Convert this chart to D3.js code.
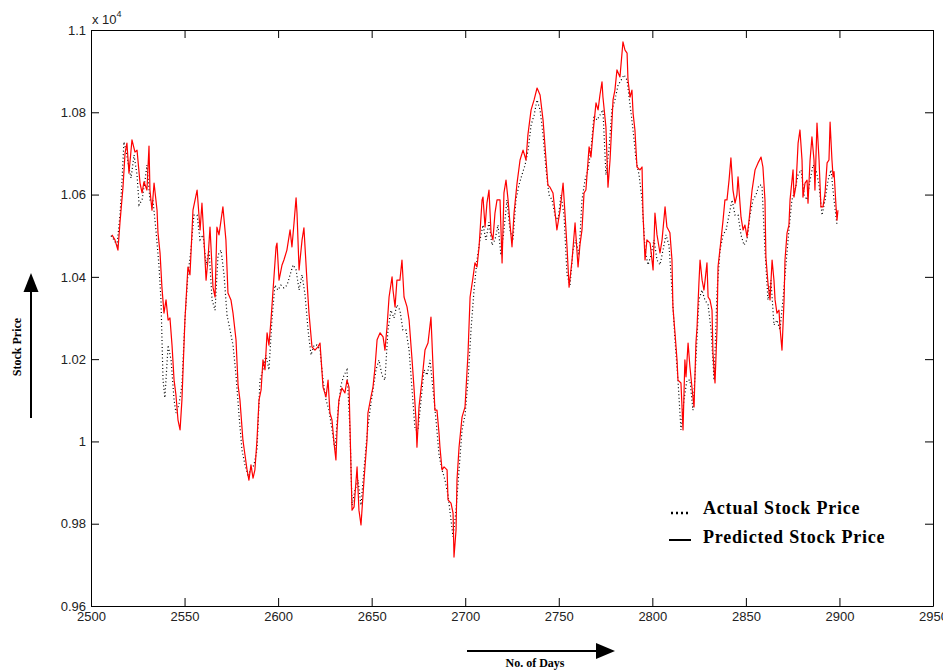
<!doctype html>
<html>
<head>
<script src="https://d3js.org/d3.v7.min.js"></script>
<style>
  body { margin: 0; background: #fff; }
  .tick text { font-family: "Liberation Sans", Arial, sans-serif; font-size: 13px; fill: #222; }
  .tick line, .domain { stroke: #000; }
</style>
</head>
<body>
<svg width="943" height="671"></svg>
<script>
// tick values of the axes
var xTicks = [2500, 2550, 2600, 2650, 2700, 2750, 2800, 2850, 2900, 2950];
var yTicks = [0.96, 0.98, 1.0, 1.02, 1.04, 1.06, 1.08, 1.1];

// actual stock price [day, price x 10^4] (black dotted)
var actual = [
  [2510.7,1.0500],[2512.3,1.0490],[2513.9,1.0477],[2515.5,1.0550],[2516.6,1.0635],[2517.6,1.0728],
  [2518.7,1.0708],[2519.8,1.0677],[2521.4,1.0640],[2523.0,1.0696],[2524.6,1.0648],[2525.7,1.0575],
  [2527.3,1.0587],[2528.9,1.0635],[2529.9,1.0672],[2531.5,1.0587],[2533.1,1.0587],[2534.7,1.0514],
  [2536.3,1.0429],[2537.4,1.0344],[2538.5,1.0149],[2539.5,1.0106],[2541.2,1.0234],[2542.8,1.0198],
  [2544.4,1.0101],[2545.4,1.0069],[2547.0,1.0089],[2548.6,1.0137],[2550.2,1.0295],[2551.8,1.0405],
  [2553.4,1.0465],[2555.0,1.0550],[2556.7,1.0550],[2558.3,1.0490],[2559.9,1.0502],[2561.5,1.0429],
  [2563.1,1.0465],[2564.7,1.0344],[2566.3,1.0319],[2567.9,1.0453],[2569.5,1.0465],[2571.1,1.0405],
  [2572.7,1.0307],[2574.3,1.0271],[2575.9,1.0234],[2577.5,1.0161],[2579.1,1.0064],[2580.7,0.9979],
  [2582.3,0.9943],[2583.9,0.9919],[2585.5,0.9931],[2587.1,0.9943],[2588.7,0.9979],[2590.3,1.0149],
  [2591.9,1.0174],[2593.5,1.0210],[2595.1,1.0174],[2596.7,1.0295],[2598.3,1.0380],[2599.9,1.0368],
  [2601.5,1.0380],[2603.1,1.0373],[2604.8,1.0380],[2606.4,1.0405],[2608.0,1.0429],[2609.6,1.0417],
  [2611.2,1.0368],[2612.8,1.0405],[2614.4,1.0356],[2616.0,1.0271],[2617.6,1.0210],[2619.2,1.0234],
  [2620.8,1.0234],[2622.4,1.0222],[2624.0,1.0149],[2625.6,1.0101],[2627.2,1.0076],[2628.8,1.0028],
  [2630.4,0.9979],[2632.0,1.0076],[2633.6,1.0137],[2635.2,1.0161],[2636.8,1.0174],[2638.4,1.0028],
  [2639.5,0.9845],[2641.1,0.9882],[2642.7,0.9906],[2644.3,0.9845],[2645.9,0.9931],[2647.5,1.0015],
  [2649.1,1.0076],[2650.7,1.0125],[2652.3,1.0174],[2653.9,1.0198],[2655.5,1.0161],[2657.1,1.0149],
  [2658.7,1.0271],[2660.3,1.0319],[2661.9,1.0300],[2663.5,1.0332],[2665.1,1.0319],[2666.7,1.0271],
  [2668.3,1.0271],[2670.0,1.0222],[2671.6,1.0125],[2673.2,1.0028],[2674.8,1.0028],[2676.4,1.0101],
  [2678.0,1.0174],[2679.6,1.0161],[2681.2,1.0198],[2682.8,1.0125],[2684.4,1.0052],[2686.0,0.9967],
  [2687.6,0.9931],[2689.2,0.9906],[2690.8,0.9870],[2692.4,0.9809],[2693.5,0.9768],[2695.1,0.9833],
  [2696.7,0.9931],[2698.3,1.0028],[2699.9,1.0064],[2701.5,1.0149],[2703.1,1.0271],[2704.7,1.0368],
  [2706.3,1.0441],[2707.9,1.0490],[2709.5,1.0526],[2711.1,1.0490],[2712.7,1.0533],[2714.3,1.0477],
  [2715.9,1.0490],[2717.5,1.0526],[2719.1,1.0453],[2720.7,1.0514],[2722.3,1.0587],[2723.9,1.0514],
  [2725.5,1.0490],[2727.1,1.0587],[2728.7,1.0623],[2730.3,1.0648],[2732.0,1.0672],[2733.6,1.0708],
  [2735.2,1.0769],[2736.8,1.0793],[2738.4,1.0830],[2740.0,1.0806],[2741.6,1.0745],[2743.2,1.0660],
  [2744.8,1.0599],[2746.4,1.0587],[2748.0,1.0550],[2749.6,1.0538],[2751.2,1.0599],[2752.8,1.0550],
  [2754.4,1.0405],[2756.0,1.0380],[2757.6,1.0465],[2759.2,1.0490],[2760.8,1.0453],[2762.4,1.0587],
  [2764.0,1.0635],[2765.6,1.0660],[2767.2,1.0708],[2768.8,1.0793],[2770.4,1.0781],[2772.0,1.0793],
  [2773.6,1.0806],[2775.2,1.0648],[2776.8,1.0708],[2778.4,1.0806],[2780.0,1.0830],[2781.7,1.0866],
  [2783.3,1.0878],[2784.9,1.0891],[2786.5,1.0878],[2788.1,1.0818],[2789.7,1.0757],[2791.3,1.0684],
  [2792.9,1.0648],[2794.5,1.0587],[2796.1,1.0465],[2797.7,1.0429],[2799.3,1.0453],[2800.9,1.0490],
  [2802.5,1.0441],[2804.1,1.0429],[2805.7,1.0465],[2807.3,1.0502],[2808.9,1.0477],[2810.5,1.0368],
  [2812.1,1.0247],[2813.7,1.0149],[2815.3,1.0028],[2816.9,1.0101],[2818.5,1.0149],[2820.1,1.0149],
  [2821.7,1.0076],[2823.3,1.0198],[2824.9,1.0344],[2826.5,1.0368],[2828.1,1.0344],[2829.8,1.0332],
  [2831.4,1.0271],[2833.0,1.0149],[2834.6,1.0368],[2836.2,1.0465],[2837.8,1.0502],[2839.4,1.0514],
  [2841.0,1.0550],[2842.6,1.0587],[2844.2,1.0550],[2845.8,1.0550],[2847.4,1.0502],[2849.0,1.0477],
  [2850.6,1.0490],[2852.2,1.0550],[2853.8,1.0587],[2855.4,1.0599],[2857.0,1.0623],[2858.6,1.0623],
  [2860.2,1.0465],[2861.8,1.0344],[2863.4,1.0392],[2865.0,1.0283],[2866.6,1.0295],[2868.2,1.0271],
  [2869.8,1.0344],[2871.4,1.0429],[2873.0,1.0514],[2874.6,1.0587],[2876.2,1.0611],[2877.9,1.0648],
  [2879.5,1.0660],[2881.1,1.0599],[2882.7,1.0587],[2884.3,1.0635],[2885.9,1.0672],[2887.5,1.0660],
  [2889.1,1.0623],[2890.7,1.0550],[2892.3,1.0587],[2893.9,1.0635],[2895.5,1.0660],[2897.1,1.0587],
  [2898.7,1.0526]
];

// predicted stock price [day, price x 10^4] (red solid)
var predicted = [
  [2511.2,1.0502],[2512.8,1.0490],[2514.4,1.0465],[2515.5,1.0533],[2517.1,1.0618],[2518.2,1.0701],
  [2519.2,1.0725],[2520.3,1.0652],[2521.9,1.0733],[2523.5,1.0703],[2524.6,1.0708],[2526.2,1.0628],
  [2527.3,1.0604],[2528.3,1.0631],[2529.9,1.0611],[2531.0,1.0718],[2531.5,1.0611],[2532.6,1.0562],
  [2533.7,1.0628],[2535.3,1.0562],[2535.8,1.0507],[2536.9,1.0458],[2537.9,1.0375],[2539.0,1.0312],
  [2540.1,1.0344],[2541.2,1.0295],[2542.2,1.0300],[2543.3,1.0234],[2544.4,1.0149],[2545.4,1.0113],
  [2546.5,1.0052],[2547.6,1.0028],[2548.6,1.0101],[2550.2,1.0295],[2551.8,1.0424],[2552.9,1.0405],
  [2554.5,1.0562],[2556.7,1.0611],[2558.3,1.0514],[2559.3,1.0579],[2560.4,1.0490],[2561.5,1.0392],
  [2562.5,1.0441],[2563.6,1.0521],[2565.2,1.0375],[2566.3,1.0351],[2567.3,1.0521],[2568.4,1.0502],
  [2569.5,1.0538],[2570.5,1.0570],[2572.1,1.0490],[2573.2,1.0361],[2574.8,1.0344],[2575.9,1.0312],
  [2577.5,1.0247],[2578.6,1.0137],[2579.6,1.0101],[2581.2,1.0003],[2582.3,0.9967],[2583.4,0.9931],
  [2584.4,0.9906],[2585.5,0.9943],[2586.6,0.9911],[2587.6,0.9931],[2588.7,1.0003],[2589.8,1.0101],
  [2590.9,1.0125],[2591.9,1.0198],[2593.0,1.0174],[2594.1,1.0264],[2595.1,1.0234],[2596.2,1.0295],
  [2597.3,1.0368],[2598.9,1.0473],[2599.4,1.0482],[2600.5,1.0392],[2602.1,1.0429],[2603.1,1.0441],
  [2604.7,1.0465],[2606.4,1.0514],[2607.4,1.0473],[2608.5,1.0531],[2609.6,1.0592],[2610.1,1.0555],
  [2611.2,1.0417],[2612.8,1.0490],[2613.8,1.0519],[2615.4,1.0392],[2616.5,1.0312],[2618.1,1.0230],
  [2619.7,1.0222],[2621.3,1.0230],[2622.4,1.0239],[2623.5,1.0166],[2624.0,1.0132],[2625.6,1.0108],
  [2626.7,1.0149],[2627.7,1.0069],[2628.8,1.0052],[2629.9,0.9996],[2630.9,0.9955],[2631.5,1.0028],
  [2632.5,1.0101],[2634.1,1.0130],[2635.7,1.0118],[2636.8,1.0149],[2637.9,1.0132],[2639.5,0.9833],
  [2640.6,0.9841],[2642.2,0.9938],[2643.2,0.9833],[2644.3,0.9797],[2645.9,0.9906],[2647.5,1.0003],
  [2648.0,1.0069],[2649.6,1.0108],[2650.7,1.0132],[2651.8,1.0181],[2652.9,1.0247],[2654.5,1.0264],
  [2656.1,1.0254],[2657.1,1.0222],[2658.2,1.0278],[2659.3,1.0351],[2660.9,1.0400],[2661.4,1.0368],
  [2662.5,1.0327],[2663.5,1.0392],[2665.1,1.0392],[2666.2,1.0441],[2667.3,1.0351],[2668.9,1.0327],
  [2670.0,1.0295],[2671.6,1.0198],[2672.6,1.0132],[2673.7,1.0052],[2674.2,0.9986],[2675.3,1.0084],
  [2676.9,1.0149],[2678.5,1.0222],[2680.1,1.0239],[2681.7,1.0302],[2682.8,1.0181],[2683.8,1.0076],
  [2684.9,1.0076],[2686.0,1.0020],[2686.5,0.9986],[2687.6,0.9931],[2688.7,0.9938],[2690.3,0.9931],
  [2690.8,0.9858],[2692.4,0.9850],[2693.5,0.9826],[2694.0,0.9719],[2695.1,0.9785],[2695.6,0.9906],
  [2696.7,0.9986],[2698.3,1.0059],[2699.9,1.0084],[2701.5,1.0215],[2702.6,1.0351],[2704.2,1.0400],
  [2705.2,1.0434],[2706.3,1.0424],[2707.4,1.0473],[2709.0,1.0587],[2709.5,1.0594],[2710.6,1.0521],
  [2711.6,1.0579],[2712.7,1.0611],[2713.8,1.0507],[2714.8,1.0490],[2715.9,1.0555],[2717.0,1.0587],
  [2718.6,1.0587],[2719.7,1.0434],[2720.7,1.0604],[2721.8,1.0635],[2722.9,1.0587],[2723.9,1.0531],
  [2725.0,1.0473],[2726.1,1.0555],[2727.7,1.0628],[2729.3,1.0684],[2730.9,1.0708],[2732.5,1.0684],
  [2733.5,1.0745],[2735.2,1.0806],[2736.8,1.0830],[2738.4,1.0859],[2740.0,1.0842],[2741.6,1.0781],
  [2743.2,1.0684],[2744.2,1.0623],[2745.3,1.0618],[2746.9,1.0604],[2749.0,1.0514],[2750.7,1.0562],
  [2752.3,1.0628],[2753.3,1.0555],[2754.4,1.0473],[2755.5,1.0375],[2757.1,1.0441],[2758.7,1.0531],
  [2760.3,1.0424],[2761.3,1.0477],[2762.4,1.0514],[2763.5,1.0604],[2764.5,1.0611],[2766.2,1.0716],
  [2767.2,1.0691],[2768.3,1.0750],[2769.9,1.0823],[2771.0,1.0806],[2772.0,1.0842],[2773.1,1.0874],
  [2773.6,1.0837],[2775.2,1.0764],[2776.3,1.0618],[2777.4,1.0684],[2779.0,1.0830],[2780.0,1.0854],
  [2781.1,1.0903],[2782.7,1.0886],[2784.3,1.0971],[2785.4,1.0951],[2786.5,1.0944],[2787.0,1.0878],
  [2788.1,1.0837],[2789.1,1.0854],[2789.7,1.0798],[2790.7,1.0757],[2791.8,1.0667],[2793.4,1.0660],
  [2794.5,1.0667],[2795.0,1.0555],[2796.1,1.0441],[2797.1,1.0490],[2798.8,1.0482],[2800.4,1.0417],
  [2801.4,1.0555],[2802.5,1.0502],[2804.1,1.0458],[2805.2,1.0490],[2806.8,1.0570],[2807.8,1.0521],
  [2809.4,1.0507],[2810.5,1.0441],[2811.0,1.0327],[2812.1,1.0264],[2813.2,1.0198],[2813.7,1.0149],
  [2815.3,1.0142],[2816.4,1.0028],[2817.4,1.0198],[2818.0,1.0157],[2819.1,1.0239],[2820.1,1.0181],
  [2821.7,1.0108],[2822.3,1.0084],[2823.3,1.0239],[2823.9,1.0278],[2824.9,1.0385],[2825.5,1.0441],
  [2826.6,1.0392],[2827.6,1.0368],[2828.2,1.0392],[2829.2,1.0434],[2829.8,1.0351],[2830.8,1.0344],
  [2831.9,1.0319],[2832.4,1.0215],[2833.5,1.0142],[2834.6,1.0278],[2835.1,1.0424],[2836.7,1.0490],
  [2837.8,1.0538],[2838.8,1.0587],[2839.9,1.0587],[2841.0,1.0635],[2842.0,1.0689],[2843.1,1.0611],
  [2844.2,1.0579],[2845.2,1.0599],[2845.8,1.0643],[2847.4,1.0545],[2848.5,1.0514],[2849.5,1.0526],
  [2850.6,1.0497],[2851.7,1.0538],[2853.3,1.0611],[2854.9,1.0660],[2856.5,1.0677],[2858.1,1.0691],
  [2859.1,1.0667],[2860.2,1.0587],[2860.7,1.0448],[2861.8,1.0385],[2862.9,1.0344],[2864.0,1.0441],
  [2865.0,1.0392],[2865.6,1.0344],[2866.6,1.0312],[2867.7,1.0319],[2868.2,1.0278],[2869.3,1.0222],
  [2870.4,1.0344],[2870.9,1.0441],[2872.0,1.0507],[2873.0,1.0526],[2873.6,1.0587],[2875.2,1.0660],
  [2875.7,1.0594],[2876.8,1.0623],[2877.9,1.0725],[2878.9,1.0757],[2880.0,1.0684],[2880.5,1.0594],
  [2881.6,1.0628],[2882.7,1.0635],[2883.2,1.0579],[2884.3,1.0684],[2885.3,1.0740],[2886.4,1.0684],
  [2886.9,1.0611],[2888.0,1.0774],[2889.1,1.0684],[2890.1,1.0570],[2891.2,1.0570],[2892.3,1.0604],
  [2893.4,1.0677],[2894.4,1.0684],[2895.0,1.0776],[2896.0,1.0684],[2896.6,1.0643],[2897.1,1.0656],
  [2898.2,1.0570],[2898.7,1.0538],[2899.2,1.0562]
];

var svg = d3.select("svg");
svg.append("rect").attr("width", 943).attr("height", 671).attr("fill", "#fff");

var plotLeft = 91, plotRight = 933, plotTop = 30, plotBottom = 606;

var xScale = d3.scaleLinear().domain([2500, 2950]).range([plotLeft, plotRight]),
    yScale = d3.scaleLinear().domain([0.96, 1.1]).range([plotBottom, plotTop]);

// axes, matlab style: ticks pointing inwards on all four sides
svg.append("g")
  .attr("transform", "translate(0," + plotBottom + ")")
  .call(d3.axisBottom(xScale).tickValues(xTicks).tickSizeInner(-8).tickSizeOuter(0).tickPadding(6)
    .tickFormat(d3.format("d")));

svg.append("g")
  .attr("transform", "translate(0," + plotTop + ")")
  .call(d3.axisTop(xScale).tickValues(xTicks).tickSizeInner(-8).tickSizeOuter(0).tickFormat(""));

svg.append("g")
  .attr("transform", "translate(" + plotLeft + ",0)")
  .call(d3.axisLeft(yScale).tickValues(yTicks).tickSizeInner(-8).tickSizeOuter(0).tickPadding(5)
    .tickFormat(function(d) { return String(+d.toFixed(2)); }));

svg.append("g")
  .attr("transform", "translate(" + plotRight + ",0)")
  .call(d3.axisRight(yScale).tickValues(yTicks).tickSizeInner(-8).tickSizeOuter(0).tickFormat(""));

svg.selectAll(".domain").attr("stroke-width", 1);

// exponent label
var expo = svg.append("text")
  .attr("x", plotLeft + 1)
  .attr("y", 24)
  .style("font-family", "Liberation Sans, Arial, sans-serif")
  .style("font-size", "13px")
  .style("fill", "#222")
  .text("x 10");
expo.append("tspan")
  .attr("dy", -7)
  .style("font-size", "9px")
  .text("4");

var line = d3.line()
  .x(function(d) { return xScale(d[0]); })
  .y(function(d) { return yScale(d[1]); });

// actual (black dotted)
svg.append("path")
  .datum(actual)
  .attr("d", line)
  .style("fill", "none")
  .style("stroke", "#000")
  .style("stroke-width", 1.2)
  .style("stroke-dasharray", "1,2.5");

// predicted (red)
svg.append("path")
  .datum(predicted)
  .attr("d", line)
  .style("fill", "none")
  .style("stroke", "#ff0000")
  .style("stroke-width", 1.2)
  .style("stroke-linejoin", "round");

// legend
var legend = svg.append("g")
  .style("font-family", "Liberation Serif, Times New Roman, serif")
  .style("font-weight", "bold")
  .style("font-size", "18px")
  .style("letter-spacing", "0.8px");

legend.append("line")
  .attr("x1", 671).attr("x2", 691).attr("y1", 513).attr("y2", 513)
  .style("stroke", "#000").style("stroke-width", 2.5)
  .style("stroke-dasharray", "2,3");
legend.append("text").attr("x", 703).attr("y", 514).text("Actual Stock Price");

legend.append("line")
  .attr("x1", 669).attr("x2", 691).attr("y1", 540).attr("y2", 540)
  .style("stroke", "#000").style("stroke-width", 2);
legend.append("text").attr("x", 703).attr("y", 543).text("Predicted Stock Price");

// y axis label with arrow
svg.append("line")
  .attr("x1", 31).attr("x2", 31).attr("y1", 418).attr("y2", 290)
  .style("stroke", "#000").style("stroke-width", 2);
svg.append("path")
  .attr("d", "M31,273 L23.5,292 L38.5,292 Z")
  .style("fill", "#000");
svg.append("text")
  .attr("text-anchor", "middle")
  .attr("transform", "translate(21,347)rotate(-90)")
  .style("font-family", "Liberation Serif, Times New Roman, serif")
  .style("font-weight", "bold")
  .style("font-size", "12px")
  .text("Stock Price");

// x axis label with arrow
svg.append("line")
  .attr("x1", 467).attr("x2", 598).attr("y1", 651).attr("y2", 651)
  .style("stroke", "#000").style("stroke-width", 2);
svg.append("path")
  .attr("d", "M615,651 L596,643 L596,659 Z")
  .style("fill", "#000");
svg.append("text")
  .attr("x", 535)
  .attr("y", 667)
  .attr("text-anchor", "middle")
  .style("font-family", "Liberation Serif, Times New Roman, serif")
  .style("font-weight", "bold")
  .style("font-size", "12px")
  .text("No. of Days");
</script>
</body>
</html>
